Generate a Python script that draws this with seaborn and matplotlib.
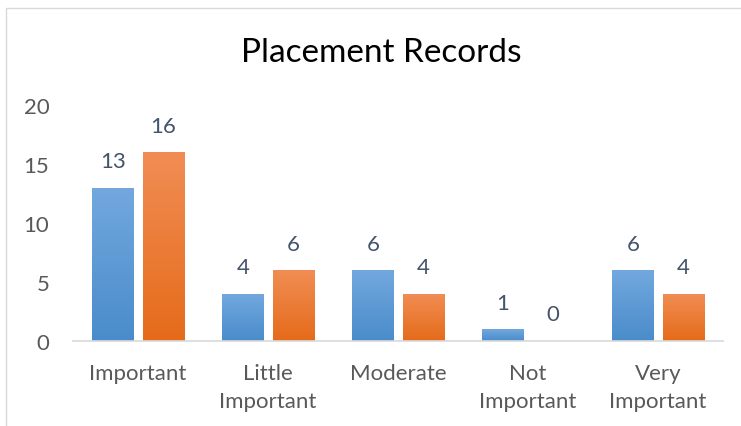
import numpy as np
import pandas as pd
import matplotlib
matplotlib.use("Agg")
import matplotlib.pyplot as plt
import matplotlib.colors as mcolors
import seaborn as sns
from matplotlib.patches import Rectangle
from matplotlib.colors import LinearSegmentedColormap

categories = ["Important", "Little\nImportant", "Moderate", "Not\nImportant", "Very\nImportant"]
series_names = ["Series 1", "Series 2"]
series1 = [13, 4, 6, 1, 6]
series2 = [16, 6, 4, 0, 4]
yticks = [0, 5, 10, 15, 20]

df = pd.DataFrame({
    "category": categories * 2,
    "series": [series_names[0]] * 5 + [series_names[1]] * 5,
    "value": series1 + series2,
})

sns.set_theme(style="white")
plt.rcParams["font.family"] = ["Lato", "DejaVu Sans"]

fig = plt.figure(figsize=(7.41, 4.27), dpi=100)
ax = fig.add_axes([73 / 741, 1 - 342 / 427, 650 / 741, 236 / 427])

palette = {series_names[0]: "#5b9bd5", series_names[1]: "#ed7d31"}
sns.barplot(data=df, x="category", y="value", hue="series", order=categories,
            hue_order=series_names, palette=palette, width=0.77, gap=0.18,
            legend=False, ax=ax, saturation=1)

ax.set_ylim(0, 20)
ax.set_yticks(yticks)
ax.set_xlim(-0.5, 4.5)

# gradient fills clipped to bars (lighter at top)
grads = {
    "#5b9bd5": ["#72a8de", "#4a8ccb"],
    "#ed7d31": ["#f18d54", "#e56b1a"],
}
for p in list(ax.patches):
    fc = mcolors.to_hex(p.get_facecolor())
    if fc not in grads:
        continue
    cmap = LinearSegmentedColormap.from_list("g", grads[fc])
    x0, y0 = p.get_x(), p.get_y()
    w, h = p.get_width(), p.get_height()
    if h <= 0:
        continue
    grad = np.linspace(0, 1, 100).reshape(-1, 1)
    im = ax.imshow(grad, extent=[x0, x0 + w, y0, y0 + h], aspect="auto",
                   cmap=cmap, origin="upper", zorder=p.get_zorder() + 0.1)
    im.set_clip_path(p)

# value labels
label_color = "#44546a"
for cont in ax.containers:
    ax.bar_label(cont, labels=[f"{int(v)}" for v in cont.datavalues], padding=12,
                 fontsize=16, color=label_color)

ax.set_xlabel("")
ax.set_ylabel("")
for s in ["left", "right", "top"]:
    ax.spines[s].set_visible(False)
ax.spines["bottom"].set_color("#d9d9d9")
ax.spines["bottom"].set_linewidth(1.2)
ax.tick_params(axis="both", length=0, labelsize=16, colors="#595959")
ax.tick_params(axis="y", pad=17)
ax.tick_params(axis="x", pad=15.5)
for t in ax.get_xticklabels():
    t.set_linespacing(1.55)
    t.set_verticalalignment("top")
ax.grid(False)

fig.text(381 / 741, 1 - 53 / 427, "Placement Records", ha="center", va="center",
         fontsize=24, color="#000000")

# chart frame
fig.patches.append(Rectangle((6 / 741, -0.1), 1.0, 1 - 9 / 427 + 0.1,
                             transform=fig.transFigure, fill=False,
                             edgecolor="#d9d9d9", linewidth=1))

fig.savefig("out.png", dpi=100)
